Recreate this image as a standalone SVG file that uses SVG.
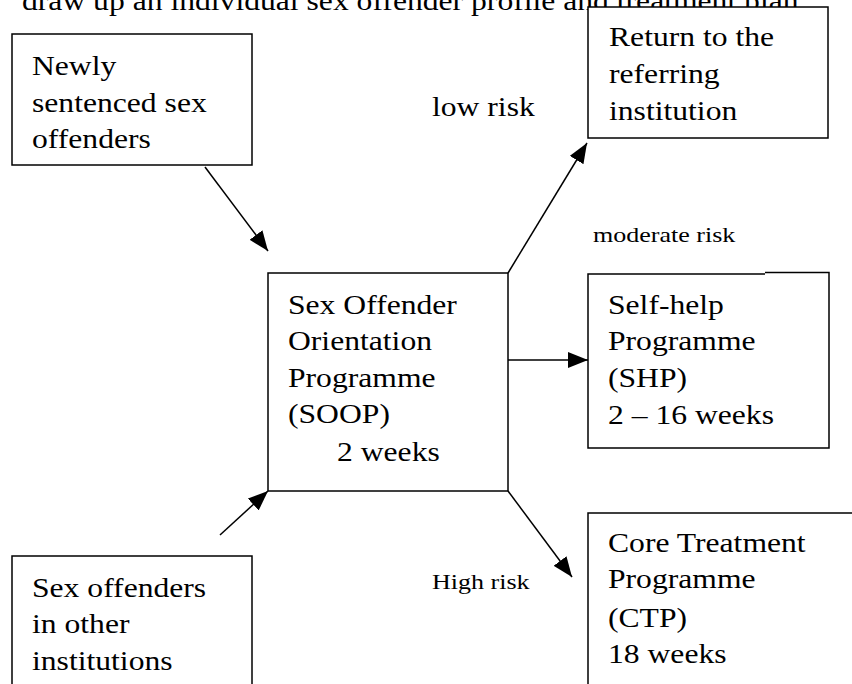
<svg xmlns="http://www.w3.org/2000/svg" width="852" height="684" viewBox="0 0 852 684">
  <style>
    .box { fill: #ffffff; stroke: #000000; stroke-width: 1.5; }
    .t { font-family: "Liberation Serif", "Times New Roman", serif; font-size: 28px; fill: #000000; }
    .s { font-family: "Liberation Serif", "Times New Roman", serif; font-size: 21.5px; fill: #000000; }
    .conn { stroke: #000000; stroke-width: 1.5; fill: none; marker-end: url(#arrow); }
  </style>
  <defs>
    <marker id="arrow" viewBox="0 0 20 16" refX="20" refY="8" markerWidth="20" markerHeight="16" markerUnits="userSpaceOnUse" orient="auto">
      <path d="M0,0 L20,8 L0,16 z" fill="#000000"/>
    </marker>
  </defs>
  <rect x="0" y="0" width="852" height="684" fill="#ffffff"/>

  <g id="heading" transform="translate(22 0) scale(1.13 1)">
    <text class="t" x="0" y="10">draw up an individual sex offender profile and treatment plan</text>
  </g>

  <g id="node-newly">
    <rect class="box" x="12" y="34" width="240" height="131"/>
    <g transform="translate(32 0) scale(1.13 1)">
      <text class="t"><tspan x="0" y="75">Newly</tspan><tspan x="0" y="112">sentenced sex</tspan><tspan x="0" y="148">offenders</tspan></text>
    </g>
  </g>

  <g id="node-other">
    <rect class="box" x="12" y="556" width="240" height="140"/>
    <g transform="translate(32 0) scale(1.13 1)">
      <text class="t"><tspan x="0" y="597">Sex offenders</tspan><tspan x="0" y="633">in other</tspan><tspan x="0" y="670">institutions</tspan></text>
    </g>
  </g>

  <g id="node-soop">
    <rect class="box" x="268" y="273" width="240" height="218"/>
    <g transform="translate(288 0) scale(1.13 1)">
      <text class="t"><tspan x="0" y="314">Sex Offender</tspan><tspan x="0" y="350">Orientation</tspan><tspan x="0" y="387">Programme</tspan><tspan x="0" y="423">(SOOP)</tspan><tspan x="43.4" y="461">2 weeks</tspan></text>
    </g>
  </g>

  <g id="node-return">
    <rect class="box" x="588" y="7" width="240" height="131"/>
    <g transform="translate(609 0) scale(1.13 1)">
      <text class="t"><tspan x="0" y="46">Return to the</tspan><tspan x="0" y="83">referring</tspan><tspan x="0" y="120">institution</tspan></text>
    </g>
  </g>

  <g id="node-shp">
    <path class="box" d="M765,274 L588,274 L588,448 L829,448 L829,272.5 L765,272.5"/>
    <g transform="translate(608 0) scale(1.13 1)">
      <text class="t"><tspan x="0" y="314">Self-help</tspan><tspan x="0" y="350">Programme</tspan><tspan x="0" y="387">(SHP)</tspan><tspan x="0" y="424">2 – 16 weeks</tspan></text>
    </g>
  </g>

  <g id="node-ctp">
    <rect class="box" x="588" y="513" width="280" height="190"/>
    <g transform="translate(608 0) scale(1.13 1)">
      <text class="t"><tspan x="0" y="552">Core Treatment</tspan><tspan x="0" y="588">Programme</tspan><tspan x="0" y="627">(CTP)</tspan><tspan x="0" y="663">18 weeks</tspan></text>
    </g>
  </g>

  <g id="connectors">
    <line class="conn" x1="205" y1="167" x2="268" y2="251"/>
    <line class="conn" x1="220" y1="535" x2="268" y2="491"/>
    <line class="conn" x1="508" y1="273" x2="587" y2="143"/>
    <line class="conn" x1="508" y1="360" x2="588" y2="360"/>
    <line class="conn" x1="508" y1="491" x2="572" y2="577"/>
  </g>

  <g id="labels">
    <g transform="translate(432 0) scale(1.13 1)">
      <text class="t" x="0" y="116">low risk</text>
    </g>
    <g transform="translate(593 0) scale(1.21 1)">
      <text class="s" x="0" y="242">moderate risk</text>
    </g>
    <g transform="translate(432 0) scale(1.21 1)">
      <text class="s" x="0" y="589">High risk</text>
    </g>
  </g>
</svg>
